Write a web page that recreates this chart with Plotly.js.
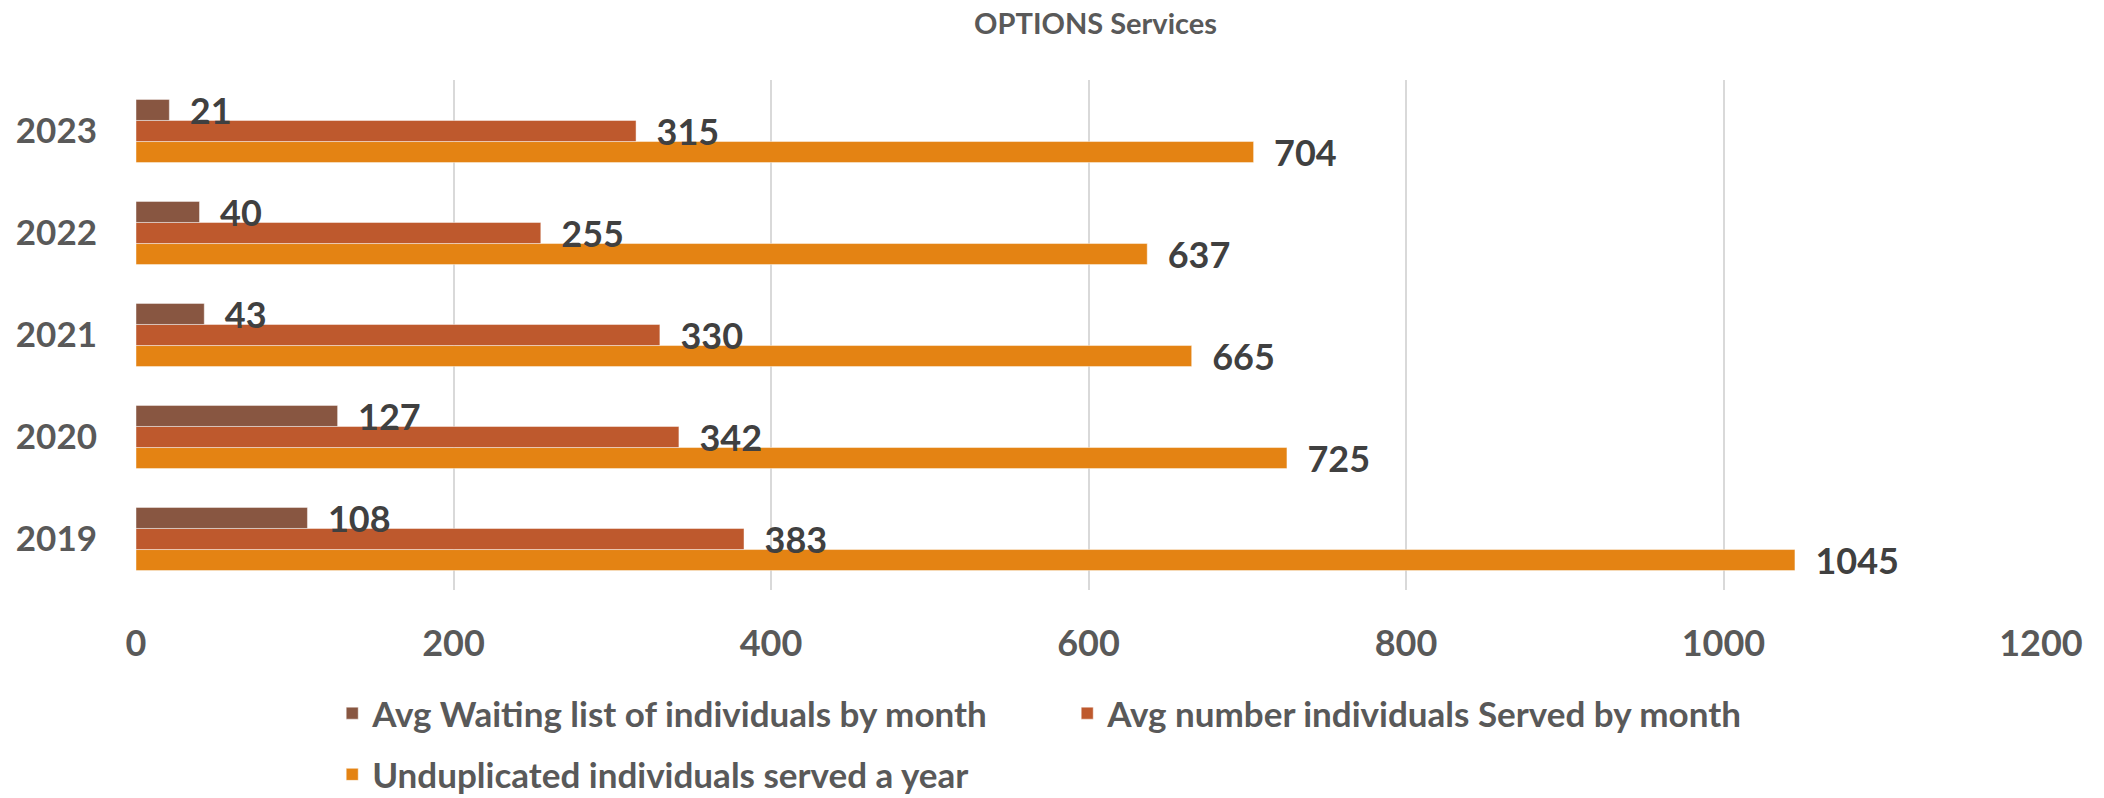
<!DOCTYPE html>
<html>
<head>
<meta charset="utf-8">
<script src="https://cdn.plot.ly/plotly-3.0.1.min.js"></script>
<style>
  html, body { margin: 0; padding: 0; background: #fff; }
  #chart { width: 2104px; height: 798px; }
</style>
</head>
<body>
<div id="chart"></div>
<script>
// years, bottom to top
var years = ["2019", "2020", "2021", "2022", "2023"];
var waitingList = [108, 127, 43, 40, 21];
var servedMonthly = [383, 342, 330, 255, 315];
var unduplicatedYear = [1045, 725, 665, 637, 704];
var xTicks = [0, 200, 400, 600, 800, 1000, 1200];

var FONT = "Lato, 'Open Sans', sans-serif";
var NB = "\u00a0\u00a0";

function barTrace(name, values, color, legendId) {
    return {
        type: "bar",
        orientation: "h",
        name: name,
        y: years,
        x: values,
        legend: legendId,
        marker: { color: color, line: { color: "rgba(255,255,255,0.45)", width: 1 } },
        texttemplate: NB + "%{x}",
        textposition: "outside",
        constraintext: "none",
        cliponaxis: false,
        textfont: { family: FONT, size: 36, weight: "bold", color: "#404040" },
        hoverinfo: "skip"
    };
}

// first trace sits lowest inside each group
var traces = [
    barTrace("Unduplicated individuals served a year", unduplicatedYear, "#E48313", "legend2"),
    barTrace("Avg number individuals Served by month", servedMonthly, "#BE592D", "legend"),
    barTrace("Avg Waiting list of individuals by month", waitingList, "#885641", "legend")
];

var legendFont = { family: FONT, size: 35, weight: "bold", color: "#595959" };

var layout = {
    width: 2104,
    height: 798,
    margin: { l: 136, r: 63, t: 80, b: 208, autoexpand: false },
    paper_bgcolor: "#ffffff",
    plot_bgcolor: "#ffffff",
    barmode: "group",
    bargap: 0.38,
    bargroupgap: 0,
    title: {
        text: "OPTIONS Services",
        font: { family: FONT, size: 29, weight: "bold", color: "#595959" },
        x: 0.5037, xref: "paper",
        y: 0.97, yref: "container", yanchor: "middle"
    },
    xaxis: {
        range: [0, 1200],
        tickvals: xTicks,
        showgrid: true,
        gridcolor: "#d9d9d9",
        gridwidth: 2,
        zeroline: false,
        showline: false,
        ticks: "",
        ticklabelstandoff: 29,
        tickfont: { family: FONT, size: 36, weight: "bold", color: "#595959" }
    },
    yaxis: {
        type: "category",
        categoryorder: "array",
        categoryarray: years,
        showgrid: false,
        zeroline: false,
        showline: false,
        ticks: "",
        ticklabelstandoff: 38,
        tickfont: { family: FONT, size: 35, weight: "bold", color: "#595959" }
    },
    showlegend: true,
    legend: {
        orientation: "h",
        traceorder: "reversed",
        x: 0.103, xanchor: "left",
        y: -0.242, yanchor: "middle",
        entrywidth: 690,
        font: legendFont
    },
    legend2: {
        orientation: "h",
        x: 0.103, xanchor: "left",
        y: -0.362, yanchor: "middle",
        font: legendFont
    }
};

var config = { staticPlot: true, displayModeBar: false, responsive: false };

Plotly.newPlot("chart", traces, layout, config);
</script>
</body>
</html>
